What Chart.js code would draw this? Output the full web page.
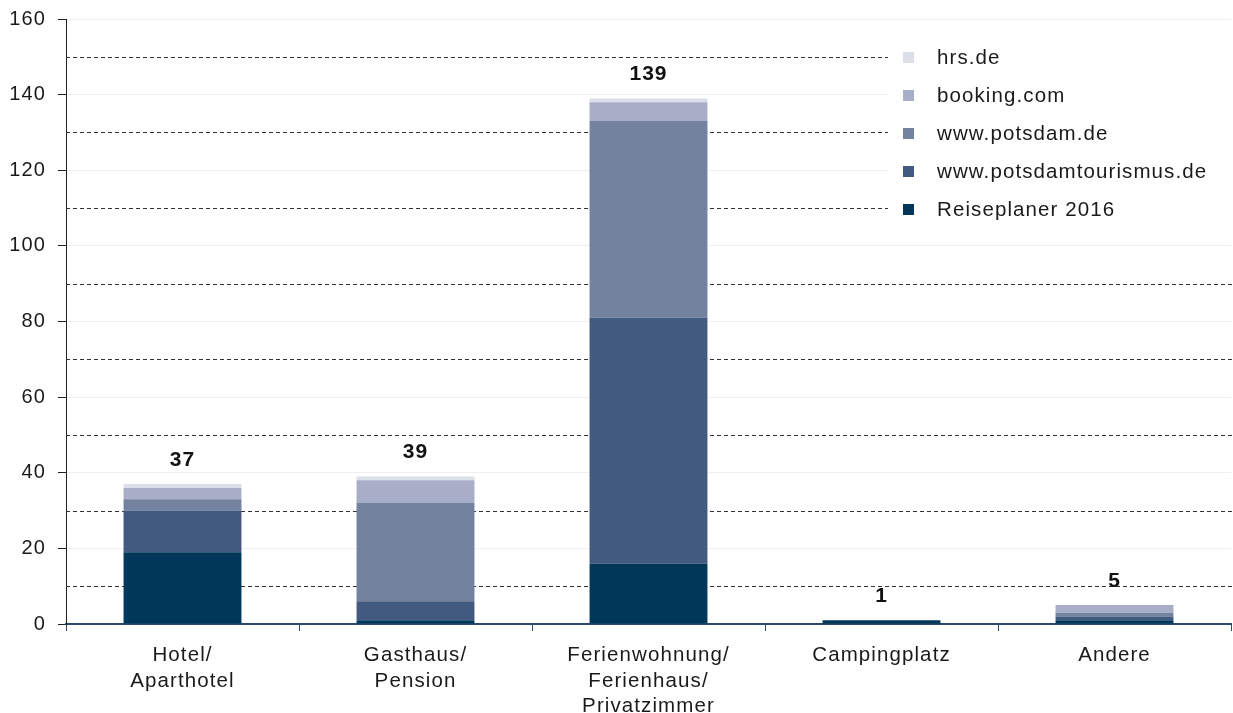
<!DOCTYPE html>
<html><head><meta charset="utf-8">
<script src="https://cdn.jsdelivr.net/npm/chart.js@4/dist/chart.umd.min.js"></script>
<style>html,body{margin:0;padding:0;background:#fff}#wrap{width:1233px;height:713px}</style>
</head><body><div id="wrap"><canvas id="c" width="1233" height="713"></canvas></div>
<script>
const categories = [["Hotel/","Aparthotel"],["Gasthaus/","Pension"],["Ferienwohnung/","Ferienhaus/","Privatzimmer"],["Campingplatz"],["Andere"]];
const seriesNames = ["Reiseplaner 2016","www.potsdamtourismus.de","www.potsdam.de","booking.com","hrs.de"];
const reiseplaner = [19, 1, 16, 1, 1];
const potsdamtourismus = [11, 5, 65, 0, 1];
const potsdam = [3, 26, 52, 0, 1];
const booking = [3, 6, 5, 0, 2];
const hrs = [1, 1, 1, 0, 0];
const totals = [37, 39, 139, 1, 5];
const yTicks = [0, 20, 40, 60, 80, 100, 120, 140, 160];
const dashedLevels = [10, 30, 50, 70, 90, 110, 130, 150];
const colors = ["#01385a", "#425a80", "#72829f", "#a8adc8", "#dcdee8"];

const FONT = "'Liberation Sans', Arial, sans-serif";
const seriesData = [reiseplaner, potsdamtourismus, potsdam, booking, hrs];

const spacingPlugin = {
  id: 'spacing',
  beforeDraw(chart) { chart.ctx.letterSpacing = '1.1px'; }
};
const dashedPlugin = {
  id: 'dashed',
  beforeDatasetsDraw(chart) {
    const {ctx, chartArea} = chart; const y = chart.scales.y;
    ctx.save(); ctx.strokeStyle = '#333'; ctx.lineWidth = 1; ctx.setLineDash([4,3]);
    dashedLevels.forEach(v => { const py = Math.round(y.getPixelForValue(v)) + 0.5;
      ctx.beginPath(); ctx.moveTo(chartArea.left, py); ctx.lineTo(chartArea.right + 2, py); ctx.stroke(); });
    ctx.restore();
  }
};
const labelsPlugin = {
  id: 'totals',
  afterDatasetsDraw(chart) {
    const {ctx} = chart; const x = chart.scales.x, y = chart.scales.y;
    ctx.save(); ctx.letterSpacing = '1px';
    ctx.font = "bold 21px " + FONT; ctx.fillStyle = '#111'; ctx.textAlign = 'center'; ctx.textBaseline = 'middle';
    totals.forEach((t, i) => ctx.fillText(String(t), x.getPixelForValue(i), y.getPixelForValue(t) - 24));
    // legend
    ctx.fillStyle = '#fff'; ctx.fillRect(888, 38, 345, 190);
    ctx.letterSpacing = '1.1px';
    ctx.font = "20.5px " + FONT; ctx.textAlign = 'left';
    for (let k = 0; k < seriesNames.length; k++) {
      const idx = seriesNames.length - 1 - k; const cy = 57 + k * 38;
      ctx.fillStyle = colors[idx]; ctx.fillRect(903, cy - 5, 11, 11);
      ctx.fillStyle = '#1a1a1a'; ctx.fillText(seriesNames[idx], 937, cy + 1);
    }
    ctx.restore();
  }
};

new Chart(document.getElementById('c'), {
  type: 'bar',
  data: {
    labels: categories,
    datasets: seriesNames.map((n, i) => ({ label: n, data: seriesData[i], backgroundColor: colors[i],
      categoryPercentage: 1, barPercentage: 0.506, borderWidth: 0 }))
  },
  options: {
    responsive: false, animation: false, devicePixelRatio: 1,
    layout: { padding: { top: 19, right: 2, left: 0, bottom: 0 } },
    plugins: { legend: { display: false }, tooltip: { enabled: false } },
    scales: {
      x: { stacked: true, offset: true,
        grid: { offset: true, drawOnChartArea: false, drawTicks: true, tickLength: 7, color: '#2b4a6b', lineWidth: 1 },
        border: { color: '#2b4a6b', width: 2 },
        ticks: { color: '#1a1a1a', font: { family: FONT, size: 20.5, lineHeight: 1.24 }, padding: 12, maxRotation: 0, autoSkip: false },
        afterFit(s) { s.height = 89; } },
      y: { stacked: true, min: 0, max: 160,
        afterBuildTicks(s) { s.ticks = yTicks.map(v => ({ value: v })); },
        grid: { color: '#efefef', tickColor: '#222', tickLength: 8, lineWidth: 1 },
        border: { color: '#222', width: 1 },
        ticks: { color: '#1a1a1a', font: { family: FONT, size: 20 }, padding: 12 },
        afterFit(s) { s.width = 66; s.paddingTop = 0; s.paddingBottom = 0; } }
    }
  },
  plugins: [spacingPlugin, dashedPlugin, labelsPlugin]
});
</script></body></html>
